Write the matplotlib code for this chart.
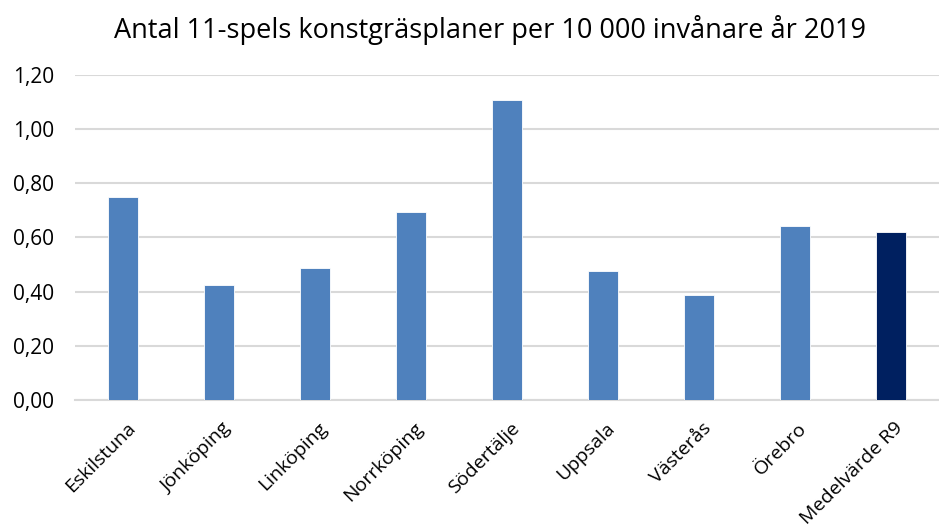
import matplotlib
matplotlib.use("Agg")
import matplotlib.pyplot as plt
from matplotlib.ticker import FuncFormatter, MultipleLocator
import matplotlib.transforms as mtrans

categories = ["Eskilstuna", "Jönköping", "Linköping", "Norrköping", "Södertälje",
              "Uppsala", "Västerås", "Örebro", "Medelvärde R9"]
values = [0.75, 0.423, 0.488, 0.696, 1.109, 0.475, 0.387, 0.641, 0.621]
colors = ["#4F81BD"] * 8 + ["#002060"]
title = "Antal 11-spels konstgräsplaner per 10 000 invånare år 2019"

plt.rcParams['font.family'] = ['Open Sans', 'DejaVu Sans']

fig = plt.figure(figsize=(9.39, 5.32), dpi=100)
ax = fig.add_axes([75/939, 132/532, 864/939, 325/532])
x = list(range(len(categories)))
ax.bar(x, values, width=0.31, color=colors, edgecolor="white", linewidth=0.6, zorder=3)
ax.set_xlim(-0.5, len(categories) - 0.5)
ax.set_ylim(0, 1.2)
ax.yaxis.set_major_locator(MultipleLocator(0.2))
ax.yaxis.set_major_formatter(FuncFormatter(lambda v, p: f"{v:.2f}".replace(".", ",")))
ax.grid(axis="y", color="#D9D9D9", linewidth=1.5, zorder=0)
for s in ["top", "right", "left"]:
    ax.spines[s].set_visible(False)
ax.spines["bottom"].set_color("#D9D9D9")
ax.spines["bottom"].set_linewidth(1.5)
ax.tick_params(axis="both", length=0, colors="black")
ax.tick_params(axis="y", pad=15, labelsize=15)
ax.tick_params(axis="x", pad=0, labelsize=14)
ax.set_xticks(x)
ax.set_xticklabels(categories, rotation=45, ha="right", va="top", rotation_mode="anchor")
offset = mtrans.ScaledTranslation(3/100, -19/100, fig.dpi_scale_trans)
for lbl in ax.get_xticklabels():
    lbl.set_transform(lbl.get_transform() + offset)
fig.text(490/939, 1 - 30/532, title, ha="center", va="center", fontsize=19.5)
fig.savefig("out.png", dpi=100)
